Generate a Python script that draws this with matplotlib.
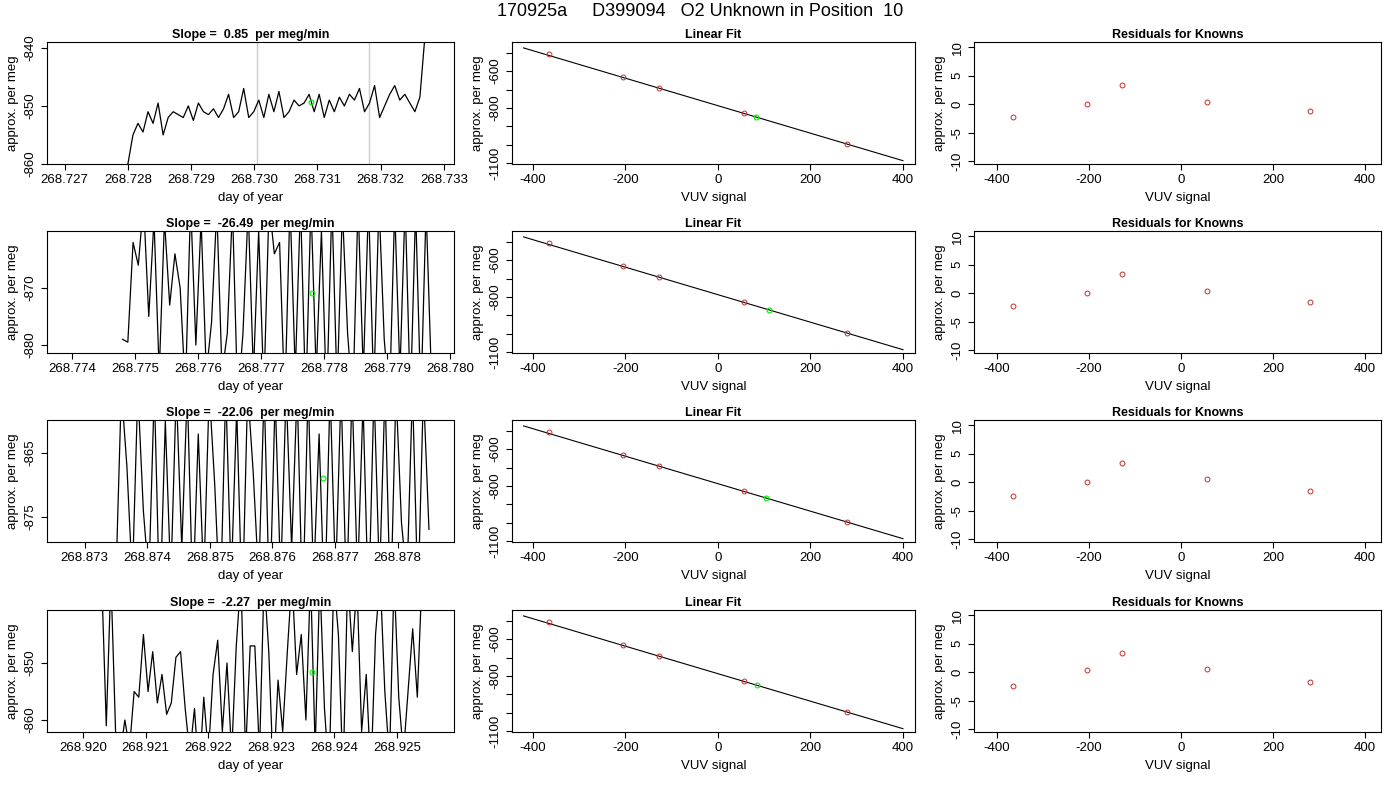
import numpy as np
import matplotlib
matplotlib.use('Agg')
import matplotlib.pyplot as plt

plt.rcParams['font.family'] = ['Liberation Sans', 'DejaVu Sans']
plt.rcParams['axes.unicode_minus'] = False

# ---- data ----
slopes = ['0.85', '-26.49', '-22.06', '-2.27']

# time series per row (start, end day of year) and values
t_range = [(268.7280, 268.7327), (268.7748, 268.7797),
           (268.8735, 268.8785), (268.9203, 268.9254)]
series = [
    [-860, -855, -853, -854.5, -851, -853, -849.5, -855, -852, -851, -851.5, -852, -850, -852.5,
     -849.5, -851, -851.5, -850.5, -852, -850.5, -848, -852, -851, -847, -852, -851, -849, -852,
     -848, -851, -847.5, -852, -851, -849, -850, -849.5, -848, -851, -848, -852, -849, -851,
     -848.5, -850, -848, -849, -847, -851, -849.5, -846.5, -852, -850, -848, -846.5, -849, -848,
     -849.5, -851, -848.5, -838],
    [-879, -879.5, -862, -866, -855, -875, -858, -885, -858, -873, -864, -870, -888, -855, -880,
     -858, -885, -876, -856, -885, -878, -856, -890, -878, -856, -885, -860, -888, -855, -864,
     -862, -890, -855, -885, -855, -890, -855, -885, -860, -890, -855, -888, -856, -878, -890,
     -855, -885, -855, -888, -855, -879, -890, -856, -885, -855, -890, -856, -890, -856, -885],
    [-885, -855, -867, -885, -855, -874, -885, -855, -890, -860, -885, -855, -880, -855, -888,
     -862, -885, -855, -870, -890, -855, -885, -858, -890, -855, -868, -885, -855, -890, -856,
     -885, -855, -880, -855, -890, -855, -885, -862, -890, -855, -885, -855, -888, -855, -885,
     -857, -890, -855, -885, -855, -890, -855, -876, -885, -855, -888, -855, -877],
    [-835, -861, -835, -862, -866, -860, -865, -855, -856, -845, -855, -848, -857, -852, -859,
     -857, -849, -848, -858, -866, -858, -870, -856, -866, -852, -846, -862, -850, -866, -847,
     -835, -866, -847, -847, -866, -835, -848, -870, -853, -862, -848, -835, -852, -845, -860,
     -835, -865, -835, -858, -870, -835, -845, -870, -835, -848, -836, -862, -852, -870, -845,
     -835, -855, -867, -835, -856, -866, -855, -844, -856, -835]
]
gray_lines = [[268.73005, 268.73181], [], [], []]
unk_time = [268.7309, 268.77781, 268.8768, 268.92365]
unk_value = [-849.3, -870.8, -869.0, -851.5]
left_xlim = [(268.72672, 268.73316), (268.7736, 268.78006),
             (268.8724, 268.8789), (268.91943, 268.92591)]
left_ylim = [(-860, -839), (-881.4, -860), (-879, -859.8), (-862.1, -840.7)]
left_yticks = [[-860, -850, -840], [-880, -870], [-875, -865], [-860, -850]]
left_xticks = [np.arange(268.727, 268.7331, 0.001), np.arange(268.774, 268.7801, 0.001),
               np.arange(268.873, 268.8781, 0.001), np.arange(268.920, 268.9251, 0.001)]

known_signal = [-365, -205, -128, 57, 280]
known_value = [-508, -631, -694, -829, -995]
fit_intercept = -787.5
fit_slope = -0.744
unk_signal = [82, 110, 105, 85]
unk_fit = [-847, -868, -865, -851]
residuals = [[-2.2, 0.0, 3.3, 0.3, -1.2],
             [-2.3, 0.0, 3.3, 0.3, -1.5],
             [-2.5, 0.1, 3.4, 0.6, -1.6],
             [-2.4, 0.3, 3.3, 0.6, -1.8]]

W, H = 1400, 800
fig = plt.figure(figsize=(14, 8), dpi=100)
fig.text(0.5, 1 - 12 / H, '170925a     D399094   O2 Unknown in Position  10',
         ha='center', va='center', fontsize=13)

col_left = [47, 512, 974]
col_width = [407, 403, 407]
row_top = [42, 231, 420, 610]
ph = 122
red = '#c03030'


def make_ax(r, c):
    return fig.add_axes([col_left[c] / W, 1 - (row_top[r] + ph) / H,
                         col_width[c] / W, ph / H])


def style(ax):
    ax.tick_params(labelsize=9.5, length=4)
    for lab in ax.get_yticklabels():
        lab.set_rotation(90)
        lab.set_va('center')


for r in range(4):
    # time series
    ax = make_ax(r, 0)
    v = series[r]
    t = np.linspace(t_range[r][0], t_range[r][1], len(v))
    for g in gray_lines[r]:
        ax.axvline(g, color='#cccccc', lw=1)
    ax.plot(t, v, color='black', lw=0.9)
    ax.plot(unk_time[r], unk_value[r], 'o', mfc='none', mec='#00ee00', ms=3.5, mew=0.8)
    ax.set_xlim(left_xlim[r])
    ax.set_ylim(left_ylim[r])
    ax.set_xticks(left_xticks[r])
    ax.set_xticklabels(['%.3f' % x for x in left_xticks[r]])
    ax.set_yticks(left_yticks[r])
    ax.set_xlabel('day of year', fontsize=9.5)
    ax.set_ylabel('approx. per meg', fontsize=9.5)
    ax.set_title('Slope =  %s  per meg/min' % slopes[r], fontsize=9, fontweight='bold', pad=3)
    style(ax)

    # linear fit
    ax = make_ax(r, 1)
    xs = np.array([-420, 400])
    ax.plot(xs, fit_intercept + fit_slope * xs, color='black', lw=0.8)
    ax.plot(known_signal, known_value, 'o', mfc='none', mec=red, ms=3.5, mew=0.7)
    ax.plot(unk_signal[r], unk_fit[r], 'o', mfc='none', mec='#00ee00', ms=3.5, mew=0.8)
    ax.set_xlim(-445, 426)
    ax.set_ylim(-1103, -443)
    ax.set_xticks([-400, -200, 0, 200, 400])
    ax.set_yticks(range(-1100, -499, 100))
    ax.set_yticklabels(['-1100', '', '', '-800', '', '-600', ''])
    ax.set_xlabel('VUV signal', fontsize=9.5)
    ax.set_ylabel('approx. per meg', fontsize=9.5)
    ax.set_title('Linear Fit', fontsize=9, fontweight='bold', pad=3)
    style(ax)

    # residuals
    ax = make_ax(r, 2)
    ax.plot(known_signal, residuals[r], 'o', mfc='none', mec=red, ms=3.5, mew=0.7)
    ax.set_xlim(-450, 435)
    ax.set_ylim(-10.5, 10.9)
    ax.set_xticks([-400, -200, 0, 200, 400])
    ax.set_yticks([-10, -5, 0, 5, 10])
    ax.set_xlabel('VUV signal', fontsize=9.5)
    ax.set_ylabel('approx. per meg', fontsize=9.5)
    ax.set_title('Residuals for Knowns', fontsize=9, fontweight='bold', pad=3)
    style(ax)

fig.savefig('out.png', dpi=100)
